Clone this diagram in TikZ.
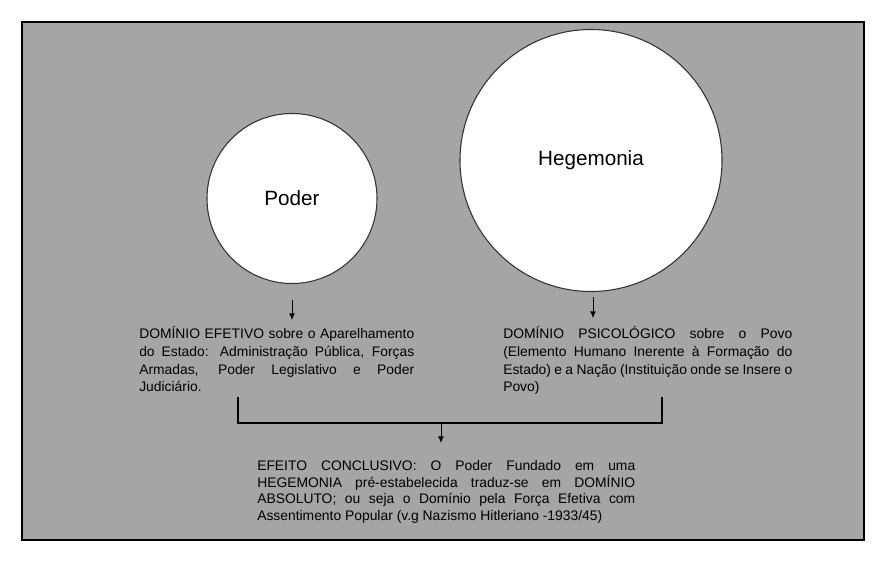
\documentclass[tikz,border=0pt]{standalone}
\usepackage{fontspec}
\setmainfont{Liberation Sans}
\usetikzlibrary{arrows.meta}
\definecolor{fundo}{RGB}{165,165,165}
\definecolor{borda}{RGB}{50,50,50}

\begin{document}
\begin{tikzpicture}[x=0.75pt,y=-0.75pt,
  circulo/.style={circle,draw=borda,line width=0.8pt,fill=white,inner sep=0pt,font=\fontsize{15.5}{18}\selectfont},
  texto/.style={text width=#1,align=justify,inner sep=0pt,anchor=north west,font=\fontsize{10.4}{13.3}\selectfont},
  seta/.style={-{Latex[length=5pt,width=4.5pt]},line width=0.75pt},
  chave/.style={line width=0.85pt}]
  \useasboundingbox (0,0) rectangle (886,568);
  \draw[fill=fundo,line width=1pt] (22,22) rectangle (864,540);

  % circulos
  \node[circulo,minimum size=127.5pt] (poder) at (292,198.5) {Poder};
  \node[circulo,minimum size=196.5pt] (hegemonia) at (591,160.5) {Hegemonia};

  % textos
  \node[texto=206.25pt] (efetivo) at (139,326.5) {DOMÍNIO EFETIVO sobre o Aparelhamento\linebreak do Estado: Administração Pública, Forças\linebreak Armadas, Poder Legislativo e Poder\linebreak Judiciário.};
  \node[texto=216.75pt] (psico) at (503,326.5) {DOMÍNIO PSICOLÓGICO sobre o Povo\linebreak (Elemento Humano Inerente à Formação do\linebreak Estado) e a Nação (Instituição onde se Insere o\linebreak Povo)};
  \node[texto=283.5pt,font=\fontsize{10.4}{12.6}\selectfont] (conclusivo) at (257,460) {EFEITO CONCLUSIVO: O Poder Fundado em uma\linebreak HEGEMONIA pré-estabelecida traduz-se em DOMÍNIO\linebreak ABSOLUTO; ou seja o Domínio pela Força Efetiva com\linebreak Assentimento Popular (v.g Nazismo Hitleriano -1933/45)};

  % setas
  \coordinate (p1) at (292,300);
  \coordinate (p2) at (292,320);
  \coordinate (h1) at (593,297);
  \coordinate (h2) at (593,318);
  \draw[seta] (p1) -- (p2);
  \draw[seta] (h1) -- (h2);

  % chave
  \coordinate (ce) at (238,397);
  \coordinate (cd) at (662,397);
  \coordinate (meio) at (441,423);
  \coordinate (fim) at (441,443);
  \draw[chave] (ce) |- (meio) -| (cd);
  \draw[seta] (meio) -- (fim);
\end{tikzpicture}
\end{document}
